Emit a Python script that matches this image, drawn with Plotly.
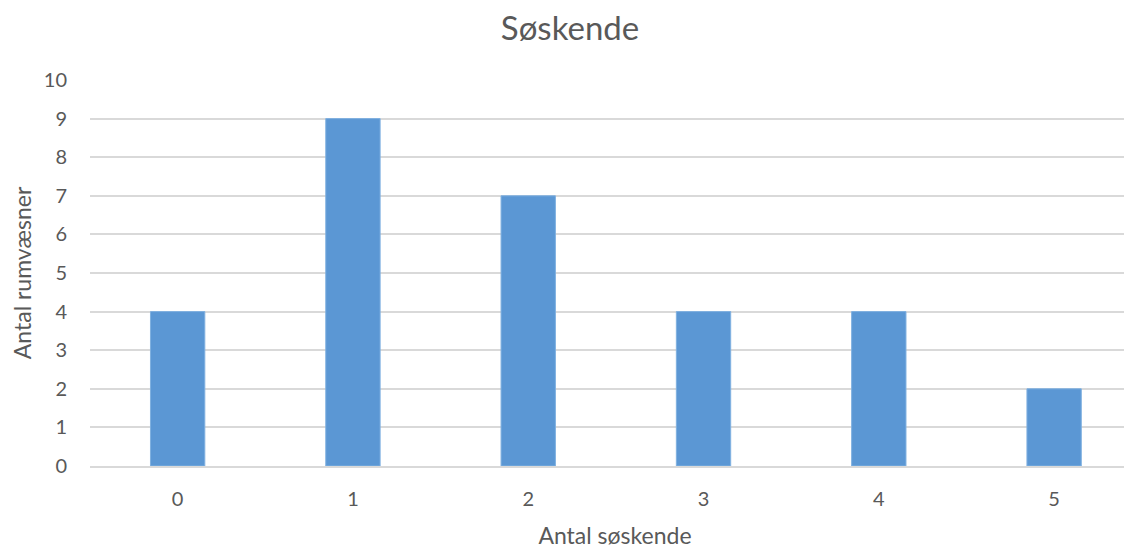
import plotly.graph_objects as go

categories = [0, 1, 2, 3, 4, 5]
values = [4, 9, 7, 4, 4, 2]
tick_labels = ["0", "1", "2", "3", "4", "5"]

font_fam = "Lato, Open Sans, sans-serif"
grey = "#595959"

fig = go.Figure(go.Bar(
    x=categories, y=values, width=0.31,
    marker=dict(color="#5b97d4", line=dict(color="#7fb0e0", width=1)),
))

fig.update_layout(
    width=1132, height=543,
    margin=dict(l=82, r=0, t=72, b=85),
    paper_bgcolor="white", plot_bgcolor="white",
    title=dict(text="Søskende", x=0.4965, xref="container", xanchor="center",
               y=0.962, yanchor="middle",
               font=dict(family=font_fam, size=33, color=grey)),
    font=dict(family=font_fam, color=grey),
    showlegend=False,
)
fig.update_xaxes(
    range=[-0.5, 5.49], tickmode="array", tickvals=categories, ticktext=tick_labels,
    showgrid=False, zeroline=False, showline=True, linecolor="#d9d9d9", linewidth=2,
    ticks="", ticklabelstandoff=14, tickfont=dict(size=20, color=grey),
    title=dict(text="Antal søskende", font=dict(size=23, color=grey), standoff=19),
)
fig.update_yaxes(
    range=[0, 10], dtick=1, showgrid=True, gridcolor="#d9d9d9", gridwidth=2,
    zeroline=False, ticks="", ticklabelstandoff=22, tickfont=dict(size=20, color=grey),
    title=dict(text="Antal rumvæsner", font=dict(size=23, color=grey), standoff=12),
)
fig.write_html("out.html")
